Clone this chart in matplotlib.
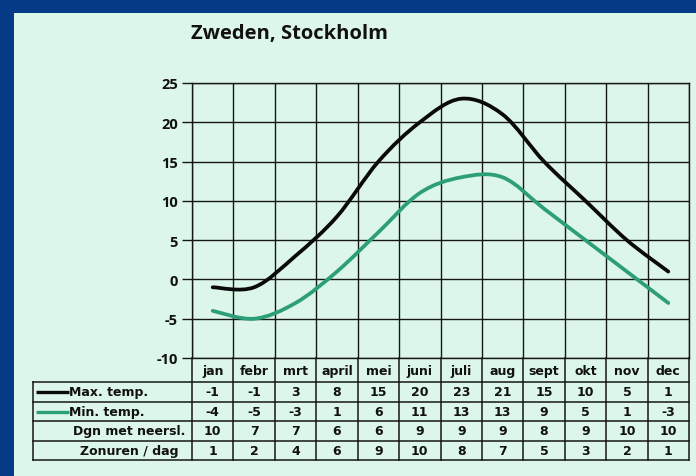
import numpy as np
import matplotlib.pyplot as plt
from matplotlib.path import Path
from matplotlib.patches import PathPatch, Rectangle

# gegevens klimaattabel
maanden = ['jan', 'febr', 'mrt', 'april', 'mei', 'juni', 'juli', 'aug', 'sept', 'okt', 'nov', 'dec']
max_temp = [-1, -1, 3, 8, 15, 20, 23, 21, 15, 10, 5, 1]
min_temp = [-4, -5, -3, 1, 6, 11, 13, 13, 9, 5, 1, -3]
dagen_neerslag = [10, 7, 7, 6, 6, 9, 9, 9, 8, 9, 10, 10]
zonuren = [1, 2, 4, 6, 9, 10, 8, 7, 5, 3, 2, 1]
rij_labels = ['Max. temp.', 'Min. temp.', 'Dgn met neersl.', 'Zonuren / dag']
y_ticks = [-10, -5, 0, 5, 10, 15, 20, 25]

BLAUW = '#053a86'
MINT = '#ddf6ea'
GROEN = '#2c9e78'
LIJN = '#161616'

W, H = 696, 477


def vloeiend_pad(xs, ys):
    # Catmull-Rom door de meetpunten, als Bezier-pad voor matplotlib
    p = np.column_stack([xs, ys]).astype(float)
    p = np.vstack([p[0], p, p[-1]])
    verts = [p[1]]
    codes = [Path.MOVETO]
    for i in range(1, len(p) - 2):
        c1 = p[i] + (p[i + 1] - p[i - 1]) / 6
        c2 = p[i + 1] - (p[i + 2] - p[i]) / 6
        verts += [c1, c2, p[i + 1]]
        codes += [Path.CURVE4] * 3
    return Path(verts, codes)


fig = plt.figure(figsize=(W / 100, H / 100), dpi=100)
fig.patch.set_facecolor(BLAUW)

# overlay in pixelcoordinaten voor paneel, titel en tabel
ov = fig.add_axes([0, 0, 1, 1])
ov.set_xlim(0, W)
ov.set_ylim(H, 0)
ov.axis('off')
ov.add_patch(Rectangle((14, 14), W - 14, H - 14, facecolor=MINT, edgecolor='none', zorder=0))
ov.text(191, 34, 'Zweden, Stockholm', fontsize=14.5, fontweight='bold',
        family='Open Sans', va='center', ha='left', color='#111111')

# grafiek
x0, x1 = 192, 689
y_top, y_bot = 84, 359
ax = fig.add_axes([x0 / W, 1 - y_bot / H, (x1 - x0) / W, (y_bot - y_top) / H])
ax.set_facecolor('none')
n = len(maanden)
ax.set_xlim(0, n)
ax.set_ylim(-10, 25)
ax.set_xticks(np.arange(0, n + 1))
ax.set_xticklabels([])
ax.tick_params(axis='x', length=0)
ax.set_yticks(y_ticks)
ax.set_yticklabels([str(v) for v in y_ticks], fontsize=10.5, fontweight='bold',
                   family='Open Sans', color='#111111')
ax.tick_params(axis='y', length=7, width=1, color=LIJN, pad=3)
ax.grid(True, color=LIJN, linewidth=1.0)
for s in ax.spines.values():
    s.set_color(LIJN)
    s.set_linewidth(1.0)

xc = np.arange(n) + 0.5
ax.add_patch(PathPatch(vloeiend_pad(xc, max_temp), fill=False, edgecolor='#0a0a0a',
                       linewidth=2.7, capstyle='round', zorder=3))
ax.add_patch(PathPatch(vloeiend_pad(xc, min_temp), fill=False, edgecolor=GROEN,
                       linewidth=2.7, capstyle='round', zorder=3))

# tabel onder de grafiek
kolom = (x1 - x0) / n
randen = [x0 + i * kolom for i in range(n + 1)]
rij_y = [359, 383, 403, 422, 442, 461]
lw = 1.1
for xr in randen:
    ov.plot([xr, xr], [rij_y[0], rij_y[-1]], color=LIJN, lw=lw)
ov.plot([33, 33], [rij_y[1], rij_y[-1]], color=LIJN, lw=lw)
for yr in rij_y[1:]:
    ov.plot([33, x1], [yr, yr], color=LIJN, lw=lw)

tf = dict(family='DejaVu Sans', fontweight='bold', fontsize=9, color='#111111',
          va='center')
for i, m in enumerate(maanden):
    ov.text(randen[i] + kolom / 2, (rij_y[0] + rij_y[1]) / 2 + 1, m, ha='center', **tf)

rijen = [max_temp, min_temp, dagen_neerslag, zonuren]
for r, waarden in enumerate(rijen):
    yc = (rij_y[r + 1] + rij_y[r + 2]) / 2
    for i, v in enumerate(waarden):
        ov.text(randen[i] + kolom / 2, yc, str(v), ha='center', **tf)
    if r < 2:
        kleur = '#0a0a0a' if r == 0 else GROEN
        ov.plot([36, 69], [yc, yc], color=kleur, lw=2.4, solid_capstyle='butt')
        ov.text(69, yc, rij_labels[r], ha='left', **tf)
    else:
        ov.text(129, yc, rij_labels[r], ha='center', **tf)

fig.savefig('out.png', dpi=100, facecolor=fig.get_facecolor())
